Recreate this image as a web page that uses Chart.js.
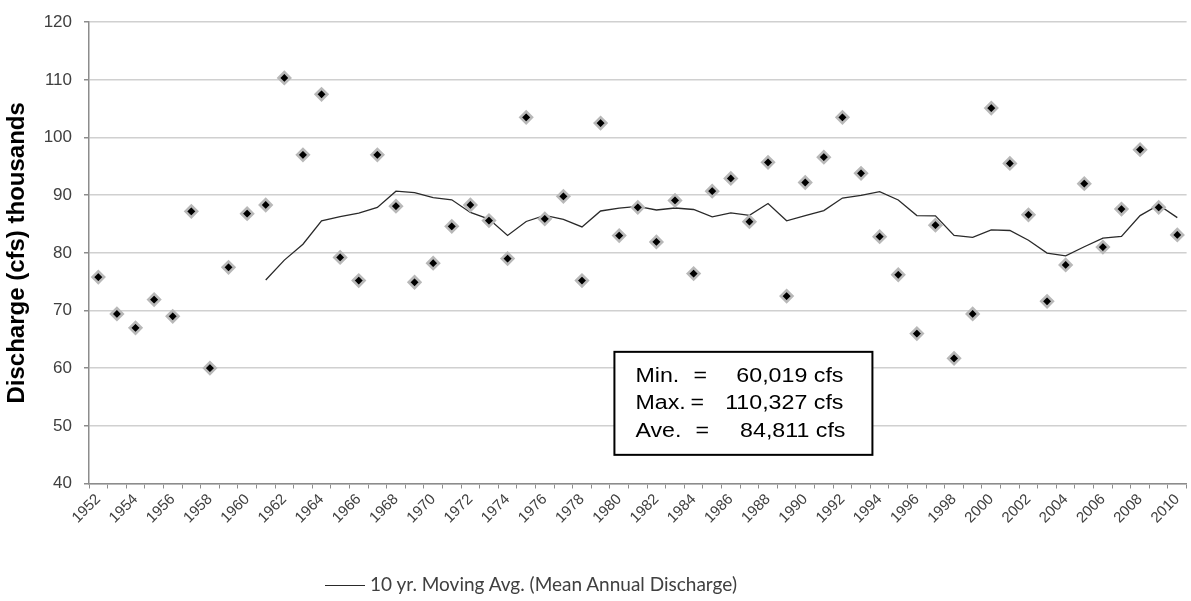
<!DOCTYPE html>
<html>
<head>
<meta charset="utf-8">
<script src="https://cdn.jsdelivr.net/npm/chart.js@4.4.1/dist/chart.umd.min.js"></script>
<style>
    html, body { margin: 0; padding: 0; background: #fff; overflow: hidden; }
    #wrap { position: relative; width: 1191px; height: 601px; overflow: hidden; }
    #legenda {
        position: absolute; left: 325px; top: 572px;
        font: 19px Lato, "Open Sans", sans-serif; color: #404040;
        white-space: nowrap; line-height: 24px;
    }
    #legenda .traco {
        display: inline-block; width: 40px; height: 0;
        border-top: 1.3px solid #2a2a2a; vertical-align: middle;
        margin-right: 5px; position: relative; top: -1px;
    }
</style>
</head>
<body>
<div id="wrap">
    <canvas id="grafico" width="1195" height="601"></canvas>
    <div id="legenda"></div>
</div>
<script>
// anos da série
const anos = [];
for (let a = 1952; a <= 2010; a++) anos.push(String(a));

// vazão média anual (mil cfs)
const vazaoAnual = [
    75.8, 69.4, 67.0, 71.9, 69.0, 87.2, 60.019, 77.5, 86.8, 88.3,
    110.327, 97.0, 107.5, 79.2, 75.2, 97.0, 88.1, 74.9, 78.2, 84.6,
    88.3, 85.6, 79.0, 103.5, 85.9, 89.8, 75.2, 102.5, 83.0, 87.9,
    81.9, 89.1, 76.4, 90.7, 92.9, 85.4, 95.7, 72.5, 92.2, 96.6,
    103.5, 93.8, 82.8, 76.2, 66.0, 84.8, 61.7, 69.4, 105.1, 95.5,
    86.6, 71.6, 77.9, 92.0, 81.0, 87.6, 97.9, 87.9, 83.1
];

// média móvel de 10 anos (começa em 1961)
const mediaMovel = [
    null, null, null, null, null, null, null, null, null, 75.29,
    78.74, 81.50, 85.55, 86.28, 86.90, 87.88, 90.69, 90.43, 89.57, 89.20,
    87.00, 85.86, 83.01, 85.44, 86.51, 85.79, 84.50, 87.26, 87.74, 88.07,
    87.43, 87.78, 87.52, 86.24, 86.94, 86.50, 88.55, 85.55, 86.47, 87.34,
    89.50, 89.97, 90.61, 89.16, 86.47, 86.41, 83.01, 82.70, 83.99, 83.88,
    82.19, 79.97, 79.48, 81.06, 82.56, 82.84, 86.46, 88.31, 86.11
];

// caixa de estatísticas
const rotulosEstat = ['Min.', 'Max.', 'Ave.'];
const valoresEstat = ['60,019 cfs', '110,327 cfs', '84,811 cfs'];

Chart.defaults.font.family = '"Liberation Sans", Arial, sans-serif';
Chart.defaults.color = '#404040';

// desenha a caixa com mínimo / máximo / média
const caixaEstat = {
    id: 'caixaEstat',
    afterDraw(chart) {
        const ctx = chart.ctx;
        const area = chart.chartArea;
        const w = area.right - area.left;
        const h = area.bottom - area.top;
        const x0 = area.left + w * 0.4787;
        const y0 = area.top + h * 0.7146;
        const bw = 258, bh = 103;

        ctx.save();
        ctx.fillStyle = '#fff';
        ctx.fillRect(x0, y0, bw, bh);
        ctx.lineWidth = 2;
        ctx.strokeStyle = '#000';
        ctx.strokeRect(x0, y0, bw, bh);

        // texto levemente esticado na horizontal
        const sx = 1.16;
        ctx.translate(x0, y0);
        ctx.scale(sx, 1);
        ctx.fillStyle = '#000';
        ctx.font = '20px "Liberation Sans", Arial, sans-serif';
        ctx.textBaseline = 'alphabetic';
        const igualX = [79, 76, 81];
        const fimX = [229, 229, 231];
        rotulosEstat.forEach((r, i) => {
            const yb = 30 + i * 27.5;
            ctx.textAlign = 'left';
            ctx.fillText(r, 21 / sx, yb);
            ctx.fillText('=', igualX[i] / sx, yb);
            ctx.textAlign = 'right';
            ctx.fillText(valoresEstat[i], fimX[i] / sx, yb);
        });
        ctx.restore();
    }
};

const grafico = new Chart(document.getElementById('grafico'), {
    type: 'line',
    data: {
        labels: anos,
        datasets: [
            {
                label: 'Mean Annual Discharge',
                data: vazaoAnual,
                showLine: false,
                pointStyle: 'rectRot',
                pointRadius: 5.8,
                pointBorderWidth: 2.6,
                pointBackgroundColor: '#000',
                pointBorderColor: '#b8b8b8',
                order: 1
            },
            {
                label: '10 yr. Moving Avg. (Mean Annual Discharge)',
                data: mediaMovel,
                borderColor: '#2a2a2a',
                borderWidth: 1.3,
                pointRadius: 0,
                tension: 0,
                spanGaps: false,
                order: 2
            }
        ]
    },
    options: {
        responsive: false,
        animation: false,
        layout: { padding: { left: 0, right: 1, top: 16, bottom: 38.5 } },
        plugins: {
            tooltip: { enabled: false },
            legend: { display: false }
        },
        scales: {
            x: {
                offset: true,
                grid: {
                    offset: true,
                    drawOnChartArea: false,
                    drawTicks: true,
                    tickLength: 5,
                    tickColor: '#8c8c8c'
                },
                border: { color: '#8c8c8c', width: 1.5 },
                ticks: {
                    autoSkip: false,
                    minRotation: 45,
                    maxRotation: 45,
                    padding: 2,
                    color: '#404040',
                    font: { size: 15 },
                    callback: function (val, i) {
                        return i % 2 === 0 ? this.getLabelForValue(val) : '';
                    }
                },
                afterFit: s => { s.height = 79; }
            },
            y: {
                min: 40,
                max: 120,
                grid: {
                    color: '#d0d0d0',
                    lineWidth: 1.5,
                    tickLength: 5,
                    tickColor: '#8c8c8c'
                },
                border: { color: '#8c8c8c', width: 1.5 },
                ticks: {
                    stepSize: 10,
                    padding: 12,
                    color: '#404040',
                    font: { size: 17 }
                },
                title: {
                    display: true,
                    text: 'Discharge (cfs) thousands',
                    color: '#000',
                    font: { size: 24, weight: 'bold' },
                    padding: { top: 3, bottom: 0 }
                },
                afterFit: s => { s.width = 89; }
            }
        }
    },
    plugins: [caixaEstat]
});

// legenda só com a média móvel
const legenda = document.getElementById('legenda');
legenda.innerHTML = '<span class="traco"></span>' + grafico.data.datasets[1].label;
</script>
</body>
</html>
